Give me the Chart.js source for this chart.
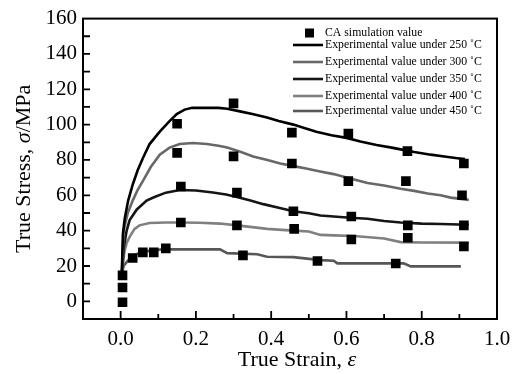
<!DOCTYPE html>
<html>
<head>
<meta charset="utf-8">
<script src="https://cdn.jsdelivr.net/npm/chart.js@4/dist/chart.umd.min.js"></script>
<style>
  html, body { margin: 0; padding: 0; background: #fff; }
  #wrap { width: 522px; height: 374px; }
</style>
</head>
<body>
<div id="wrap"><canvas id="chart"></canvas></div>
<script>
  // CA simulation points
  const caStrain = [0.005, 0.005, 0.005, 0.032, 0.059, 0.088, 0.12,
    0.15, 0.15, 0.16, 0.16,
    0.30, 0.30, 0.309, 0.309, 0.325,
    0.455, 0.455, 0.459, 0.461, 0.523,
    0.605, 0.605, 0.613, 0.613, 0.731,
    0.762, 0.758, 0.763, 0.763,
    0.912, 0.907, 0.912, 0.912];
  const caStress = [14.7, 7.8, -0.5, 24.5, 27.7, 27.7, 30,
    100.5, 84, 65, 44.6,
    112, 82, 61.5, 43, 26,
    95.5, 78, 51, 41, 22.8,
    95, 68, 48, 35, 21.4,
    85, 68, 43, 36,
    78, 60, 43, 31];

  // experimental curves
  const exp250Strain = [0.003, 0.006, 0.011, 0.02, 0.032, 0.045, 0.059, 0.077, 0.104, 0.13, 0.149, 0.17, 0.19, 0.22, 0.26, 0.283, 0.317, 0.35, 0.389, 0.42, 0.459, 0.49, 0.52, 0.56, 0.6, 0.637, 0.68, 0.72, 0.744, 0.78, 0.824, 0.86, 0.895, 0.915];
  const exp250Stress = [15, 38, 47, 57, 66, 74, 81, 89, 96, 102, 106, 108.5, 109.5, 109.5, 109.5, 109, 107.5, 106, 104, 102, 100, 98, 96, 94, 92.5, 90.5, 88.5, 87, 86, 84.5, 83, 82, 81, 80.5];

  const exp300Strain = [0.003, 0.008, 0.019, 0.032, 0.045, 0.059, 0.08, 0.104, 0.13, 0.157, 0.192, 0.229, 0.26, 0.283, 0.32, 0.352, 0.39, 0.424, 0.46, 0.496, 0.53, 0.566, 0.61, 0.656, 0.7, 0.744, 0.78, 0.816, 0.85, 0.877, 0.925];
  const exp300Stress = [15, 40, 50, 57, 63, 68, 76, 83, 87, 89, 89.6, 89, 88, 87, 84.5, 82, 80, 78, 76.5, 75, 73.5, 72, 69.5, 67, 65.5, 63.7, 62.5, 61, 60, 58.7, 57.4];

  const exp350Strain = [0.003, 0.008, 0.016, 0.024, 0.043, 0.069, 0.09, 0.12, 0.157, 0.2, 0.245, 0.28, 0.309, 0.345, 0.379, 0.42, 0.459, 0.5, 0.531, 0.566, 0.61, 0.656, 0.7, 0.744, 0.8, 0.85, 0.925];
  const exp350Stress = [15, 30, 40, 46, 52, 57, 59, 61.5, 63, 62.7, 61.6, 60.5, 59, 57, 55, 53, 51, 49.8, 48.6, 48, 47.3, 46.7, 45.5, 44.6, 44, 43.8, 43.3];

  const exp400Strain = [0.003, 0.01, 0.016, 0.024, 0.037, 0.05, 0.077, 0.12, 0.157, 0.21, 0.264, 0.309, 0.35, 0.389, 0.459, 0.5, 0.531, 0.566, 0.62, 0.7, 0.744, 0.8, 0.925];
  const exp400Stress = [15, 28, 33, 36.5, 41, 43, 44.3, 44.6, 44.6, 44.5, 44, 43, 42, 41, 40, 39.5, 37.6, 37.3, 37, 35.6, 33.5, 33.3, 33.2];

  const exp450Strain = [0.003, 0.008, 0.019, 0.035, 0.05, 0.08, 0.112, 0.18, 0.264, 0.283, 0.363, 0.389, 0.459, 0.531, 0.566, 0.576, 0.752, 0.771, 0.904];
  const exp450Stress = [15, 20, 23, 26, 27.3, 28.8, 29.4, 29.4, 29.4, 27.3, 26.6, 25.2, 25, 23.3, 23, 21.5, 21.5, 19.8, 19.8];

  const xTickLabels = ["0.0", "0.2", "0.4", "0.6", "0.8", "1.0"];
  const yTickLabels = ["0", "20", "40", "60", "80", "100", "120", "140", "160"];

  const legendLabels = ["CA simulation value",
    "Experimental value under 250 \u02daC",
    "Experimental value under 300 \u02daC",
    "Experimental value under 350 \u02daC",
    "Experimental value under 400 \u02daC",
    "Experimental value under 450 \u02daC"];
  const lineColors = ["#000000", "#686868", "#151515", "#808080", "#575757"];

  const serif = "'Liberation Serif', 'Times New Roman', serif";

  const toPoints = (xs, ys) => xs.map((x, i) => ({ x: x, y: ys[i] }));

  const curves = [
    [exp250Strain, exp250Stress],
    [exp300Strain, exp300Stress],
    [exp350Strain, exp350Stress],
    [exp400Strain, exp400Stress],
    [exp450Strain, exp450Stress]
  ];

  const datasets = [{
    label: legendLabels[0],
    data: toPoints(caStrain, caStress),
    pointStyle: "rect",
    pointRadius: 6.8,
    pointHoverRadius: 6.8,
    backgroundColor: "#000",
    borderColor: "#000",
    borderWidth: 0,
    showLine: false
  }];
  curves.forEach((c, i) => {
    datasets.push({
      label: legendLabels[i + 1],
      data: toPoints(c[0], c[1]),
      showLine: true,
      borderColor: lineColors[i],
      borderWidth: 2.6,
      pointRadius: 0,
      fill: false,
      tension: 0
    });
  });

  // frame, inward ticks, titles and legend
  const decor = {
    id: "decor",
    afterDraw(chart) {
      const ctx = chart.ctx;
      const a = chart.chartArea;
      const xs = chart.scales.x, ys = chart.scales.y;
      ctx.save();
      ctx.strokeStyle = "#000";
      ctx.lineWidth = 2;
      ctx.strokeRect(a.left, a.top, a.right - a.left, a.bottom - a.top);

      ctx.lineWidth = 1.8;
      ctx.beginPath();
      for (let k = 0; k <= 10; k++) {
        const px = xs.getPixelForValue(k / 10);
        const len = k % 2 === 0 ? 8 : 5;
        ctx.moveTo(px, a.bottom);
        ctx.lineTo(px, a.bottom - len);
      }
      for (let v = 0; v < 160; v += 10) {
        const py = ys.getPixelForValue(v);
        ctx.moveTo(a.left, py);
        ctx.lineTo(a.left + 7, py);
      }
      ctx.stroke();

      // axis titles
      ctx.fillStyle = "#000";
      ctx.textBaseline = "middle";
      const normal = "22px " + serif, italic = "italic 22px " + serif;
      const drawParts = (parts, cx, cy) => {
        let total = 0;
        parts.forEach(p => { ctx.font = p[1]; total += ctx.measureText(p[0]).width; });
        let x = cx - total / 2;
        parts.forEach(p => {
          ctx.font = p[1];
          ctx.textAlign = "left";
          ctx.fillText(p[0], x, cy);
          x += ctx.measureText(p[0]).width;
        });
      };
      drawParts([["True Strain, ", normal], ["\u03b5", italic]], 297, 360);
      ctx.save();
      ctx.translate(24, (a.top + a.bottom) / 2);
      ctx.rotate(-Math.PI / 2);
      drawParts([["True Stress, ", normal], ["\u03c3", italic], ["/MPa", normal]], 0, 0);
      ctx.restore();

      // legend
      ctx.font = "12px " + serif;
      const w = ctx.measureText(legendLabels[1]).width;
      const fs = 12 * 157 / w;
      ctx.font = fs + "px " + serif;
      const rows = [33, 45, 62, 79, 96, 111];
      const lx0 = a.left + 210, lx1 = a.left + 240, tx = a.left + 242;
      ctx.textAlign = "left";
      ctx.fillRect(lx0 + 12, rows[0] - 4.5, 9, 9);
      ctx.fillText(legendLabels[0], tx, rows[0]);
      for (let i = 1; i < rows.length; i++) {
        ctx.strokeStyle = lineColors[i - 1];
        ctx.lineWidth = 2.6;
        ctx.beginPath();
        ctx.moveTo(lx0, rows[i]);
        ctx.lineTo(lx1, rows[i]);
        ctx.stroke();
        ctx.fillText(legendLabels[i], tx, rows[i]);
      }
      ctx.restore();
    }
  };

  const ctx = document.getElementById("chart").getContext("2d");
  new Chart(ctx, {
    type: "scatter",
    data: { datasets: datasets },
    plugins: [decor],
    options: {
      responsive: true,
      maintainAspectRatio: false,
      animation: false,
      layout: { padding: { top: 17, right: 25, left: 0, bottom: 0 } },
      plugins: {
        legend: { display: false },
        tooltip: { enabled: false }
      },
      scales: {
        x: {
          type: "linear",
          min: -0.1,
          max: 1.0,
          afterFit(scale) { scale.height = 55; },
          grid: { display: false, drawTicks: false },
          border: { display: false },
          ticks: {
            stepSize: 0.1,
            autoSkip: false,
            maxRotation: 0,
            padding: 8,
            color: "#000",
            font: { family: serif, size: 21 },
            callback: (v) => {
              const k = Math.round(v * 10);
              return (k >= 0 && k % 2 === 0) ? xTickLabels[k / 2] : "";
            }
          }
        },
        y: {
          type: "linear",
          min: -10,
          max: 160,
          afterFit(scale) { scale.width = 83; },
          grid: { display: false, drawTicks: false },
          border: { display: false },
          ticks: {
            stepSize: 10,
            autoSkip: false,
            padding: 6,
            color: "#000",
            font: { family: serif, size: 21 },
            callback: (v) => {
              const k = Math.round(v);
              return (k >= 0 && k % 20 === 0) ? yTickLabels[k / 20] : "";
            }
          }
        }
      }
    }
  });
</script>
</body>
</html>
